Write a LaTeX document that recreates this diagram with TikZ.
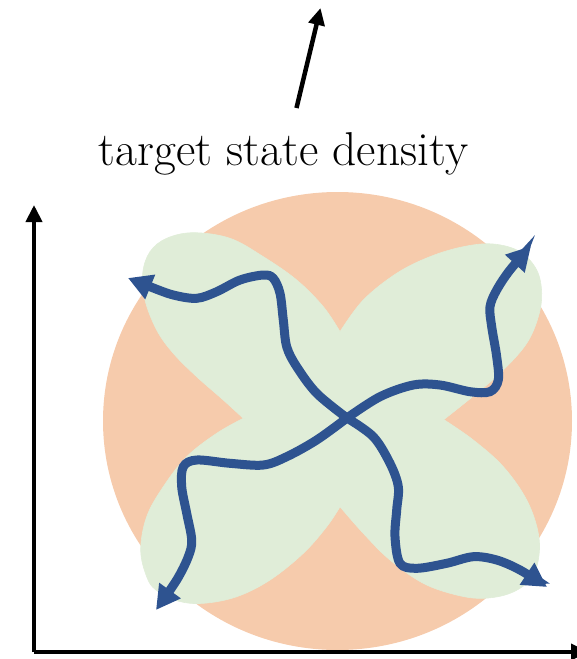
\documentclass[tikz,border=0pt]{standalone}
\usetikzlibrary{arrows.meta}
\definecolor{peach}{RGB}{246,203,172}
\definecolor{leaf}{RGB}{224,237,216}
\definecolor{walkblue}{RGB}{46,83,144}
\tikzset{
  axis/.style={line width=4pt,-{Triangle[length=17pt,width=16pt]}},
  walk/.style={draw=walkblue,line width=9pt,-{Triangle[length=24pt,width=25pt]},smooth,tension=0.55},
  petal/.style={fill=leaf,draw=leaf,line width=0.6pt,line join=round},
}
\begin{document}
\begin{tikzpicture}[x=1pt,y=-1pt]
\useasboundingbox (0,0) rectangle (577,659);
% density blob
\fill[peach] (337.5,421) ellipse[x radius=234.5, y radius=229];
\coordinate (c) at (341,419);
\filldraw[petal] (c) -- plot[smooth,tension=0.6] coordinates {(243.3,418.3) (223.3,400) (196.7,376.7) (173.3,353.3) (156.7,330) (145,300) (142.7,273.3) (150,251.7) (166.7,238.3) (193.3,232.7) (230,238.3) (263.3,256.7) (296.7,280) (323.3,306.7) (340,331.7)} -- cycle;
\filldraw[petal] (c) -- plot[smooth,tension=0.6] coordinates {(340,331.7) (363.3,300) (396.7,273.3) (430,256.7) (463.3,246.7) (493.3,244) (520,251.7) (536.7,270) (541.7,293.3) (538.3,316.7) (526.7,343.3) (503.3,370) (476.7,393.3) (443.3,420)} -- cycle;
\filldraw[petal] (c) -- plot[smooth,tension=0.6] coordinates {(443.3,419.3) (473.3,440) (503.3,466.7) (526.7,500) (538.3,533.3) (538.3,560) (530,580) (510,593.3) (483.3,598.3) (456.7,595) (423.3,583.3) (390,560) (363.3,533.3) (340,506.7)} -- cycle;
\filldraw[petal] (c) -- plot[smooth,tension=0.6] coordinates {(340,506.7) (326.7,526.7) (303.3,553.3) (270,580) (236.7,596.7) (203.3,603.3) (178,601) (156,590) (146.7,576.7) (140.7,550) (146.7,516.7) (163.3,486.7) (186.7,456.7) (216.7,433.3) (243.3,418.3)} -- cycle;
\fill[leaf] (340,333) -- (441.5,419.5) -- (340,505) -- (245,418.3) -- cycle;
% walks
\coordinate (m) at (347,418);
\draw[walk] plot coordinates {(m) (316.7,393.3) (296.7,366.7) (286.7,346.7) (283.3,320) (280,293.3) (273.3,278.3) (263.3,275) (240,280) (216.7,291.7) (196.7,298.3) (173.3,295) (150,286.7) (128,278)};
\draw[walk] plot coordinates {(m) (380,396.7) (413.3,385) (440,385) (470,391.7) (490,391.7) (498.3,380) (496.7,356.7) (491.7,326.7) (490,306.7) (496.7,290) (510,270) (531,246)};
\draw[walk] plot coordinates {(m) (316.7,440) (286.7,456.7) (263.3,465) (230,463.3) (196.7,460) (183.3,466.7) (181.7,486.7) (186.7,513.3) (191.7,540) (188.3,556.7) (176.7,580) (156,610)};
\draw[walk] plot coordinates {(m) (373.3,436.7) (390,463.3) (398.3,486.7) (396.7,510) (395,536.7) (400,563.3) (416.7,568.3) (446.7,563.3) (473.3,556.7) (496.7,560) (520,570) (547,587)};
% axes
\coordinate (o) at (34,652);
\coordinate (ytop) at (34,205);
\coordinate (xend) at (588,652);
\draw[axis] (o) -- (ytop);
\draw[axis] (o) -- (xend);
% label
\node[anchor=base,inner sep=0pt] (lbl) at (283.5,165) {\fontsize{47.5}{55}\selectfont target state density};
\coordinate (ptail) at (296.5,108);
\coordinate (phead) at (320.5,8);
\draw[line width=4.5pt,-{Triangle[length=17pt,width=16pt]}] (ptail) -- (phead);
\end{tikzpicture}
\end{document}
